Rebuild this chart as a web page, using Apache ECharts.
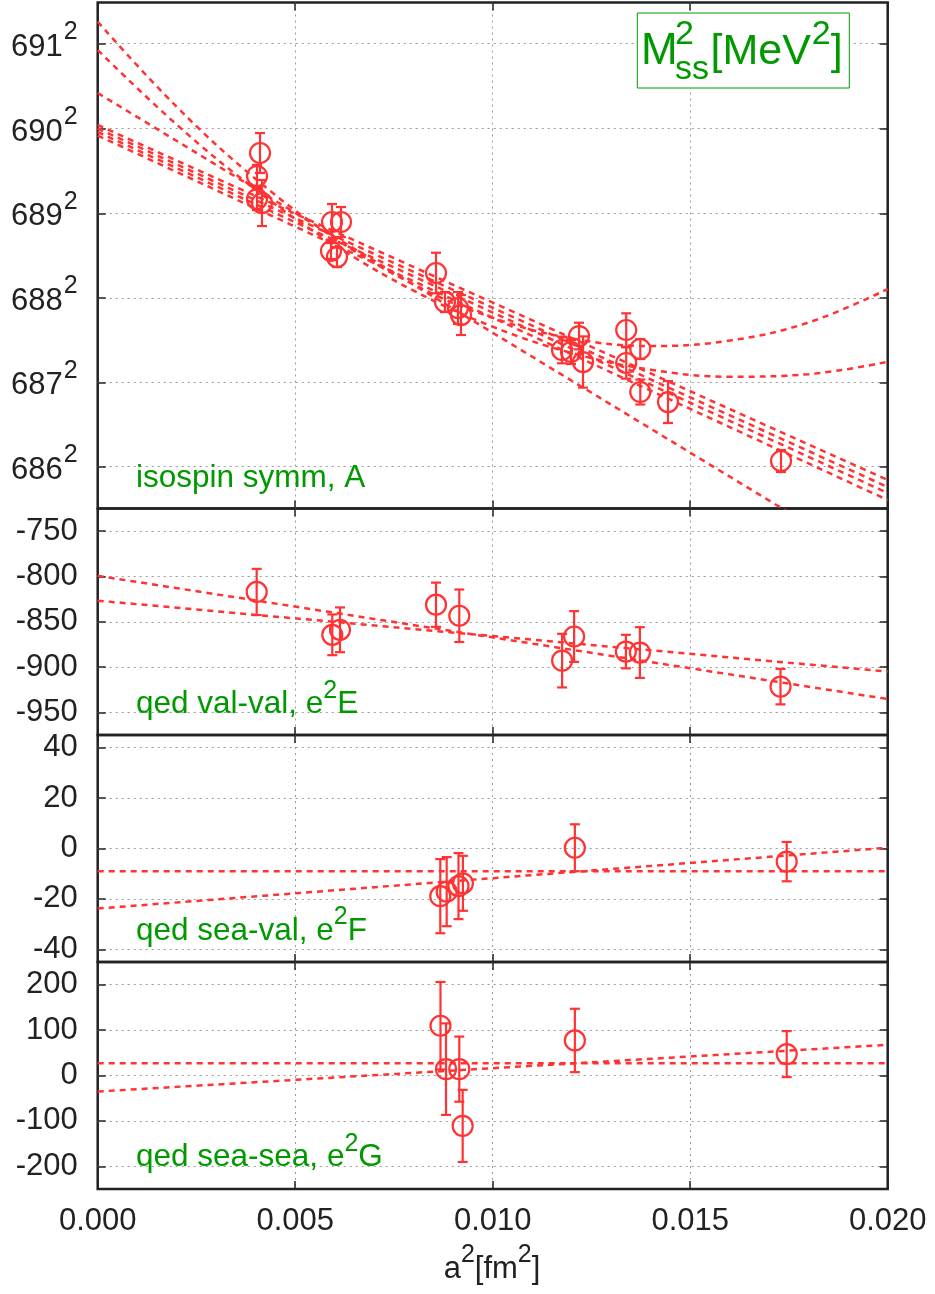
<!DOCTYPE html>
<html><head><meta charset="utf-8">
<script src="https://cdn.jsdelivr.net/npm/echarts@6/dist/echarts.min.js"></script>
<style>html,body{margin:0;padding:0;background:#fff}#c{width:935px;height:1294px}</style>
</head><body><div id="c"></div>
<script>
// ---------- data ----------
// isospin symmetric part, A : [a^2 (fm^2), M_ss^2 (MeV^2), error]
const isoPoints = [
  [0.004109, 475702, 325], [0.004033, 475328, 180], [0.004033, 474953, 180], [0.004159, 474888, 375],
  [0.005932, 474579, 293], [0.006159, 474579, 244], [0.005906, 474107, 130], [0.006058, 474009, 163],
  [0.008565, 473749, 330], [0.008792, 473277, 163], [0.009121, 473179, 260], [0.009197, 473065, 325],
  [0.011754, 472496, 217], [0.011982, 472463, 195], [0.012185, 472723, 217], [0.012286, 472300, 417],
  [0.013380, 472821, 272], [0.013380, 472284, 255], [0.013736, 472512, 163], [0.013736, 471812, 203],
  [0.014438, 471649, 342], [0.017299, 470689, 179]
];
const isoFitX = [0, 0.002, 0.004, 0.006, 0.008, 0.010, 0.012, 0.014, 0.016, 0.018, 0.020];
const isoFitQuadA = [477839, 476454, 475280, 474317, 473563, 473020, 472684, 472561, 472649, 472945, 473488];
const isoFitQuadB = [477378, 476164, 475106, 474205, 473461, 472875, 472447, 472175, 472061, 472103, 472304];
const isoFitLines = [ // [value at a^2=0, value at a^2=0.02]
  [476679, 468874], [476158, 470380], [476101, 470266], [476044, 470168], [475987, 470054]
];
const isoTickRoots = [686, 687, 688, 689, 690, 691];

// qed val-val, e^2 E
const valValPoints = [
  [0.004025, -817.1, 25.5], [0.005939, -864.4, 22.5], [0.006134, -858.9, 24.7],
  [0.008565, -831.2, 24.4], [0.009154, -843.4, 29.0], [0.011757, -892.9, 29.6],
  [0.012061, -866.3, 28.0], [0.013372, -882.9, 18.5], [0.013726, -884.0, 28.0],
  [0.017286, -921.6, 19.6]
];
const valValFits = [[-799.3, -935.3], [-826.7, -905.0]];
const valValTicks = [-950, -900, -850, -800, -750];

// qed sea-val, e^2 F
const seaValPoints = [
  [0.008673, -18.9, 14.7], [0.008835, -17.1, 13.7], [0.009134, -14.9, 13.1],
  [0.009246, -13.8, 10.9], [0.012080, 0.3, 9.3], [0.017443, -5.2, 7.8]
];
const seaValFits = [[-9.0, -9.0], [-23.8, 0.3]];
const seaValTicks = [-40, -20, 0, 20, 40];

// qed sea-sea, e^2 G
const seaSeaPoints = [
  [0.008678, 109.6, 96.4], [0.008818, 14.0, 100.8], [0.009154, 14.0, 71.7],
  [0.009240, -111.0, 79.4], [0.012080, 77.2, 69.8], [0.017443, 47.1, 50.7]
];
const seaSeaFits = [[27.2, 27.2], [-35.3, 67.6]];
const seaSeaTicks = [-200, -100, 0, 100, 200];

const xTickStep = 0.005;
const fitX = [0, 0.02];

// ---------- style / layout ----------
const RED = '#ff3333', GREEN = '#009900', INK = '#222222', GRIDC = '#9a9a9a';
const FONT = '"Liberation Sans", Arial, Helvetica, sans-serif';
const TF = 31;     // tick label font size
const LF = 31.5;   // panel label font size
const L = 97.7, W = 790;
const grids = [
  {top: 2.5, height: 506, range: [469916, 478152]},
  {top: 508.5, height: 226.5, range: [-975, -725]},
  {top: 735, height: 227, range: [-45, 45]},
  {top: 962, height: 227, range: [-250, 250]}
];
const tickVals = [isoTickRoots.map(r => r * r), valValTicks, seaValTicks, seaSeaTicks];

const chart = echarts.init(document.getElementById('c'), null, {renderer: 'canvas'});

const gridOpt = grids.map(g => ({
  left: L, width: W, top: g.top, height: g.height, show: true,
  borderColor: INK, borderWidth: 2.5, backgroundColor: 'transparent', containLabel: false
}));

const xAxes = [];
for (let pos of ['bottom', 'top']) {
  grids.forEach((g, i) => {
    xAxes.push({
      type: 'value', gridIndex: i, position: pos, min: 0, max: 0.02, interval: xTickStep,
      axisLine: {show: false, onZero: false},
      axisTick: {show: true, inside: true, length: 8, lineStyle: {color: INK, width: 1.5}},
      axisLabel: {
        show: pos === 'bottom' && i === 3, margin: 17, fontSize: TF, color: INK, fontFamily: FONT,
        formatter: v => v.toFixed(3)
      },
      splitLine: {show: pos === 'bottom', showMinLine: false, showMaxLine: false,
        lineStyle: {color: GRIDC, width: 1, type: [2, 4]}}
    });
  });
}

const yAxes = [];
for (let pos of ['left', 'right']) {
  grids.forEach((g, i) => {
    const tv = tickVals[i];
    const ax = {
      type: 'value', gridIndex: i, position: pos, min: g.range[0], max: g.range[1],
      axisLine: {show: false, onZero: false},
      axisTick: {show: true, inside: true, length: 8, customValues: tv, lineStyle: {color: INK, width: 1.5}},
      axisLabel: {show: pos === 'left', customValues: tv, margin: 20, fontSize: TF, color: INK, fontFamily: FONT},
      splitLine: {show: pos === 'left', lineStyle: {color: GRIDC, width: 1, type: [2, 4]}}
    };
    if (i === 0) {
      ax.axisLabel.formatter = v => '{n|' + Math.round(Math.sqrt(v)) + '}{s|2}';
      ax.axisLabel.rich = {
        n: {fontSize: TF, lineHeight: 31, color: INK, fontFamily: FONT, verticalAlign: 'middle', padding: [7, 0, 0, 0]},
        s: {fontSize: 25, lineHeight: 25, color: INK, fontFamily: FONT, verticalAlign: 'middle', padding: [0, 0, 23, 1]}
      };
    } else {
      ax.axisLabel.formatter = v => String(v);
    }
    yAxes.push(ax);
  });
}

function errRender(params, api) {
  const x = api.value(0), y = api.value(1), e = api.value(2);
  const c = api.coord([x, y]);
  const t = api.coord([x, y + e]);
  const b = api.coord([x, y - e]);
  const cw = 5, r = 10;
  const st = {stroke: RED, lineWidth: 2.2, fill: null};
  return {type: 'group', children: [
    {type: 'line', shape: {x1: c[0], y1: t[1], x2: c[0], y2: b[1]}, style: st},
    {type: 'line', shape: {x1: c[0] - cw, y1: t[1], x2: c[0] + cw, y2: t[1]}, style: st},
    {type: 'line', shape: {x1: c[0] - cw, y1: b[1], x2: c[0] + cw, y2: b[1]}, style: st},
    {type: 'circle', shape: {cx: c[0], cy: c[1], r: r}, style: {stroke: RED, lineWidth: 2.2, fill: null}}
  ]};
}

const series = [];
function fitLine(i, data, smooth) {
  series.push({
    type: 'line', xAxisIndex: i, yAxisIndex: i, data: data, showSymbol: false, symbol: 'none',
    smooth: smooth ? 0.4 : false, clip: true, silent: true, z: 2,
    lineStyle: {color: RED, width: 2.5, type: [6, 5]}
  });
}
function points(i, data) {
  series.push({
    type: 'custom', xAxisIndex: i, yAxisIndex: i, data: data, renderItem: errRender,
    encode: {x: 0, y: 1}, silent: true, z: 3, clip: false
  });
}
fitLine(0, isoFitX.map((x, k) => [x, isoFitQuadA[k]]), true);
fitLine(0, isoFitX.map((x, k) => [x, isoFitQuadB[k]]), true);
isoFitLines.forEach(f => fitLine(0, fitX.map((x, k) => [x, f[k]]), false));
valValFits.forEach(f => fitLine(1, fitX.map((x, k) => [x, f[k]]), false));
seaValFits.forEach(f => fitLine(2, fitX.map((x, k) => [x, f[k]]), false));
seaSeaFits.forEach(f => fitLine(3, fitX.map((x, k) => [x, f[k]]), false));
points(0, isoPoints);
points(1, valValPoints);
points(2, seaValPoints);
points(3, seaSeaPoints);

// ---------- texts ----------
const richLbl = (color, size) => ({
  m: {fontSize: size, lineHeight: size, fill: color, fontFamily: FONT, verticalAlign: 'middle'},
  s: {fontSize: 25, lineHeight: 25, fill: color, fontFamily: FONT, verticalAlign: 'middle', padding: [0, 0, 27, 0]}
});
function label(x, y, text, color) {
  return {type: 'text', z: 50, silent: true, x: x, y: y,
    style: {text: text, rich: richLbl(color, LF), align: 'left', verticalAlign: 'middle',
      fontSize: LF, fontFamily: FONT, fill: color}};
}
const plainText = (x, y, text, size, color, align) => ({
  type: 'text', z: 101, silent: true, x: x, y: y,
  style: {text: text, fontSize: size, fontFamily: FONT, fill: color, align: align || 'left', verticalAlign: 'middle'}
});

const graphic = [
  label(136, 478.3, '{m|isospin symm, A}', GREEN),
  label(136, 704.3, '{m|qed val-val, e}{s|2}{m|E}', GREEN),
  label(136, 931, '{m|qed sea-val, e}{s|2}{m|F}', GREEN),
  label(136, 1157.6, '{m|qed sea-sea, e}{s|2}{m|G}', GREEN),
  {type: 'text', z: 50, silent: true, x: 492, y: 1269,
    style: {text: '{m|a}{s|2}{m|[fm}{s|2}{m|]}', rich: richLbl(INK, TF), align: 'center', verticalAlign: 'middle',
      fontSize: TF, fontFamily: FONT, fill: INK}},
  {type: 'rect', z: 100, silent: true, shape: {x: 637.3, y: 13, width: 212, height: 75},
    style: {fill: '#ffffff', stroke: GREEN, lineWidth: 1}},
  plainText(641, 51.9, 'M', 44, GREEN),
  plainText(675, 35.1, '2', 34, GREEN),
  plainText(675, 69.8, 'ss', 34, GREEN),
  plainText(710.6, 51.9, '[MeV', 43, GREEN),
  plainText(811.7, 35.1, '2', 34, GREEN),
  plainText(830.7, 51.9, ']', 43, GREEN)
];

chart.setOption({
  animation: false,
  backgroundColor: '#ffffff',
  grid: gridOpt,
  xAxis: xAxes,
  yAxis: yAxes,
  series: series,
  graphic: graphic
});
</script></body></html>
